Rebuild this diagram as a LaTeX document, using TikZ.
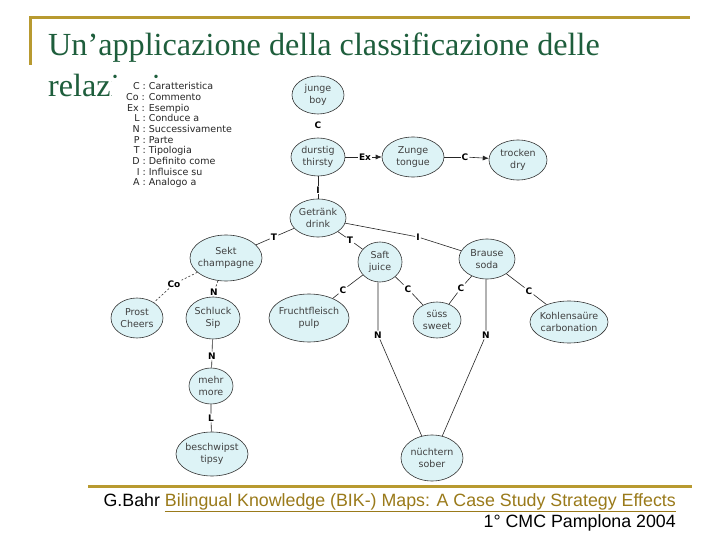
\documentclass[tikz,border=0pt]{standalone}
\usepackage{fontspec}
\setmainfont{Liberation Serif}
\newfontfamily\nodefont{DejaVu Sans}
\newfontfamily\arialfont{Liberation Sans}
\usetikzlibrary{shapes.geometric,arrows.meta}
\definecolor{nodefill}{HTML}{DDF3F6}
\definecolor{titlegreen}{HTML}{1E5E3C}
\definecolor{bargold}{HTML}{B89A30}
\definecolor{linkgold}{HTML}{9A7A1A}
\begin{document}
\begin{tikzpicture}[x=1pt,y=-1pt,
 concept/.style={ellipse,draw=black!80,fill=nodefill,line width=0.6pt,inner xsep=-4pt,inner ysep=-1pt,align=center,
   font=\nodefont\fontsize{9.5}{11.5}\selectfont,text=black!75},
 rel/.style={font=\nodefont\bfseries\fontsize{9}{10}\selectfont,fill=white,inner sep=1pt},
 conn/.style={line width=0.6pt,draw=black!85},
 dconn/.style={conn,dash pattern=on 2pt off 2pt},
 arr/.style={conn,-{Latex[length=6pt,width=5pt]}},
 bar/.style={draw=bargold,line width=3pt}]
\useasboundingbox (0,0) rectangle (720,540);
\fill[white] (0,0) rectangle (720,540);
% frame bars
\draw[bar] (30,65) -- (30,18) -- (690,18);
\draw[bar] (88,486) -- (692,486);
% title
\node[anchor=base west,inner sep=0pt,text=titlegreen,font=\fontsize{32.2}{36}\selectfont] (t1) at (48,56) {Un’applicazione della classificazione delle};
\node[anchor=base west,inner sep=0pt,text=titlegreen,font=\fontsize{32.2}{36}\selectfont] (t2) at (48,97) {relazioni};
% legend (covers the title)
\fill[white] (112,80) rectangle (250,192);
\node[anchor=north west,inner sep=0pt,font=\nodefont\fontsize{9.5}{10.7}\selectfont,text=black!85] (legend) at (126,82)
{\begin{tabular}{@{}r@{ : }l@{}}
C & Caratteristica\\
Co & Commento\\
Ex & Esempio\\
L & Conduce a\\
N & Successivamente\\
P & Parte\\
T & Tipologia\\
D & Definito come\\
I & Influisce su\\
A & Analogo a
\end{tabular}};
% concepts
\node[concept,minimum width=52,minimum height=38] (junge) at (318,95) {junge\\boy};
\node[concept,minimum width=54,minimum height=38] (durstig) at (318,157) {durstig\\thirsty};
\node[concept,minimum width=62,minimum height=40] (zunge) at (413,157) {Zunge\\tongue};
\node[concept,minimum width=58,minimum height=40] (trocken) at (518,160) {trocken\\dry};
\node[concept,minimum width=56,minimum height=38] (getraenk) at (318,218) {Getränk\\drink};
\node[concept,minimum width=72,minimum height=46] (sekt) at (226,258) {Sekt\\champagne};
\node[concept,minimum width=44,minimum height=40] (saft) at (380,262) {Saft\\juice};
\node[concept,minimum width=56,minimum height=40] (brause) at (487,259) {Brause\\soda};
\node[concept,minimum width=52,minimum height=40] (prost) at (137,318) {Prost\\Cheers};
\node[concept,minimum width=54,minimum height=42] (schluck) at (213,318) {Schluck\\Sip};
\node[concept,minimum width=80,minimum height=48] (frucht) at (309,318) {Fruchtfleisch\\pulp};
\node[concept,minimum width=48,minimum height=36] (suess) at (437,320) {süss\\sweet};
\node[concept,minimum width=78,minimum height=42] (kohlen) at (569,322) {Kohlensaüre\\carbonation};
\node[concept,minimum width=44,minimum height=36] (mehr) at (211,386) {mehr\\more};
\node[concept,minimum width=72,minimum height=44] (beschwipst) at (212,454) {beschwipst\\tipsy};
\node[concept,minimum width=62,minimum height=46] (nuechtern) at (432,458) {nüchtern\\sober};
% relation labels
\node[rel] (rC1) at (318,125) {C};
\node[rel] (rEx) at (365,157) {Ex};
\node[rel] (rC2) at (465,157) {C};
\node[rel] (rI1) at (318,190) {I};
\node[rel] (rT1) at (274,237) {T};
\node[rel] (rT2) at (350,240) {T};
\node[rel] (rI2) at (418,237) {I};
\node[rel] (rCo) at (174,284) {Co};
\node[rel] (rN1) at (214,292) {N};
\node[rel] (rC3) at (343,290) {C};
\node[rel] (rC4) at (408,289) {C};
\node[rel] (rC5) at (461,288) {C};
\node[rel] (rC6) at (529,291) {C};
\node[rel] (rN2) at (378,335) {N};
\node[rel] (rN3) at (486,335) {N};
\node[rel] (rN4) at (212,356) {N};
\node[rel] (rL) at (211,418) {L};
% connectors
\path (junge) -- (rC1) -- (durstig);
\draw[conn] (durstig) -- (rEx); \draw[arr] (rEx) -- (zunge);
\draw[conn] (zunge) -- (rC2); \draw[arr] (rC2) -- (trocken);
\draw[conn] (durstig) -- (rI1) -- (getraenk);
\draw[conn] (getraenk) -- (rT1) -- (sekt);
\draw[conn] (getraenk) -- (rT2) -- (saft);
\draw[conn] (getraenk) -- (rI2) -- (brause);
\draw[dconn] (sekt) -- (rCo) -- (prost);
\draw[dconn] (sekt) -- (rN1) -- (schluck);
\draw[conn] (saft) -- (rC3) -- (frucht);
\draw[conn] (saft) -- (rC4) -- (suess);
\draw[conn] (brause) -- (rC5) -- (suess);
\draw[conn] (brause) -- (rC6) -- (kohlen);
\draw[conn] (saft.south -| rN2) -- (rN2) -- (nuechtern.115);
\draw[conn] (brause.south -| rN3) -- (rN3) -- (nuechtern.65);
\draw[conn] (schluck) -- (rN4) -- (mehr);
\draw[conn] (mehr) -- (rL) -- (beschwipst);
% footer
\node[anchor=base east,inner sep=0pt,font=\arialfont\fontsize{17.8}{20}\selectfont] (f1) at (676,506)
 {G.Bahr \textcolor{linkgold}{\underline{Bilingual Knowledge (BIK-) Maps: A Case Study Strategy Effects}}};
\node[anchor=base east,inner sep=0pt,font=\arialfont\fontsize{17.8}{20}\selectfont] (f2) at (676,527)
 {1° CMC Pamplona 2004};
\end{tikzpicture}
\end{document}
